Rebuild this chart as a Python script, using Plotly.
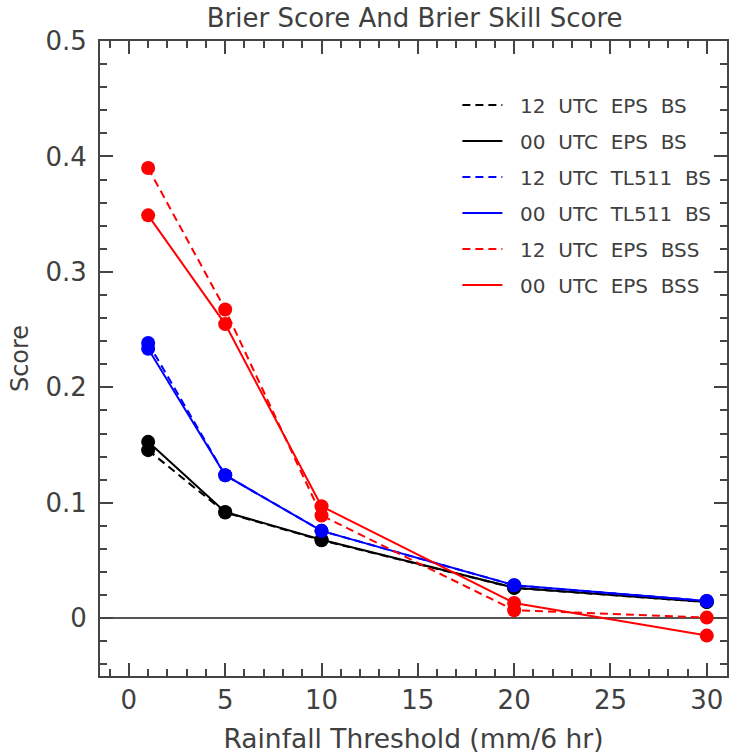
import plotly.graph_objects as go

thresholds = [1, 5, 10, 20, 30]
eps_bs_12 = [0.1456, 0.0916, 0.0676, 0.0263, 0.0140]
eps_bs_00 = [0.1528, 0.0920, 0.0680, 0.0265, 0.0142]
tl511_bs_12 = [0.2385, 0.1239, 0.0757, 0.0286, 0.0150]
tl511_bs_00 = [0.2335, 0.1239, 0.0757, 0.0286, 0.0150]
eps_bss_12 = [0.3900, 0.2675, 0.0890, 0.0070, 0.0006]
eps_bss_00 = [0.3490, 0.2548, 0.0970, 0.0133, -0.0150]

NB = "\u00a0\u00a0"
series = [
    (NB + "12  UTC  EPS  BS", eps_bs_12, "#000000", "8px,5px"),
    (NB + "00  UTC  EPS  BS", eps_bs_00, "#000000", "solid"),
    (NB + "12  UTC  TL511  BS", tl511_bs_12, "#0000ff", "8px,5px"),
    (NB + "00  UTC  TL511  BS", tl511_bs_00, "#0000ff", "solid"),
    (NB + "12  UTC  EPS  BSS", eps_bss_12, "#ff0000", "8px,5px"),
    (NB + "00  UTC  EPS  BSS", eps_bss_00, "#ff0000", "solid"),
]

FONT = "DejaVu Sans"
TXT = "#404040"

fig = go.Figure()
for i, (name, vals, col, dash) in enumerate(series):
    fig.add_trace(go.Scatter(
        x=thresholds, y=vals, mode="lines", name=name,
        line=dict(color=col, width=2, dash=dash),
        legendgroup=f"g{i}",
    ))
    fig.add_trace(go.Scatter(
        x=thresholds, y=vals, mode="markers", showlegend=False,
        marker=dict(color=col, size=14, line=dict(width=0)),
        legendgroup=f"g{i}",
    ))

axis_common = dict(
    showline=True, linecolor="#444444", linewidth=2, mirror="allticks",
    ticks="inside", ticklen=13, tickwidth=1.5, tickcolor="#444444",
    showgrid=False, tickfont=dict(family=FONT, size=26, color=TXT),
)

fig.update_xaxes(
    range=[-1.5, 31.05], tick0=0, dtick=5,
    minor=dict(ticks="inside", ticklen=7, dtick=1, tickwidth=1.5, tickcolor="#444444", showgrid=False),
    zeroline=False,
    title=dict(text="Rainfall Threshold (mm/6 hr)", font=dict(family=FONT, size=26.5, color=TXT), standoff=15),
    **axis_common,
)
fig.update_yaxes(
    range=[-0.05, 0.5], tick0=0, dtick=0.1,
    minor=dict(ticks="inside", ticklen=7, dtick=0.02, tickwidth=1.5, tickcolor="#444444", showgrid=False),
    zeroline=True, zerolinecolor="#555555", zerolinewidth=1.5,
    ticklabelstandoff=6,
    title=dict(text="Score", font=dict(family=FONT, size=24, color=TXT), standoff=10),
    **axis_common,
)

fig.update_layout(
    width=730, height=754,
    margin=dict(l=100, r=1, t=41, b=78),
    paper_bgcolor="white", plot_bgcolor="white",
    title=dict(text="Brier Score And Brier Skill Score", x=0.568, xanchor="center",
               y=0.976, yanchor="middle", yref="container",
               font=dict(family=FONT, size=26, color=TXT)),
    legend=dict(x=0.57, y=0.93, xanchor="left", yanchor="top",
                bgcolor="rgba(0,0,0,0)", font=dict(family=FONT, size=20, color=TXT),
                tracegroupgap=7, itemwidth=40),
    showlegend=True,
)

fig.write_html("out.html")
